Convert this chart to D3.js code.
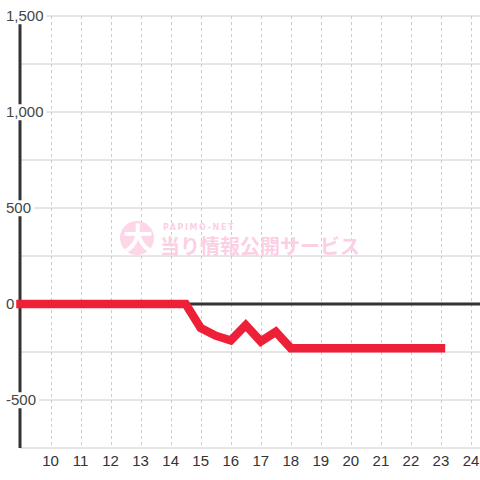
<!DOCTYPE html>
<html>
<head>
<meta charset="utf-8">
<script src="https://cdn.jsdelivr.net/npm/d3@7"></script>
<style>
  body { margin: 0; background: #fff; }
  svg text { font-family: "Liberation Sans", Arial, sans-serif; }
</style>
</head>
<body>
<svg id="chart" width="480" height="480"></svg>
<script>
// data
const games = [9, 9.5, 10, 10.5, 11, 11.5, 12, 12.5, 13, 13.5, 14, 14.5, 15, 15.5, 16, 16.5, 17, 17.5, 18, 18.5, 19, 19.5, 20, 20.5, 21, 21.5, 22, 22.5, 23];
const balance = [0, 0, 0, 0, 0, 0, 0, 0, 0, 0, 0, 0, -125, -165, -190, -110, -195, -145, -230, -230, -230, -230, -230, -230, -230, -230, -230, -230, -230];
const xTicks = [10, 11, 12, 13, 14, 15, 16, 17, 18, 19, 20, 21, 22, 23, 24];
const yGrid = [-750, -500, -250, 0, 250, 500, 750, 1000, 1250, 1500];
const yLabels = [-500, 0, 500, 1000, 1500];

const svg = d3.select('#chart');
const width = +svg.attr('width');
const height = +svg.attr('height');
const margin = { top: 16, right: 0, bottom: 32, left: 20 };

const x = d3.scaleLinear().domain([8.983, 24.3]).range([margin.left, width - margin.right]);
const y = d3.scaleLinear().domain([-750, 1500]).range([height - margin.bottom, margin.top]);

// horizontal grid
svg.append('g').selectAll('line')
    .data(yGrid)
    .enter().append('line')
    .attr('x1', margin.left).attr('x2', width)
    .attr('y1', d => y(d)).attr('y2', d => y(d))
    .attr('stroke', '#cccccc').attr('stroke-width', 1);

// vertical dashed grid
svg.append('g').selectAll('line')
    .data(xTicks)
    .enter().append('line')
    .attr('x1', d => Math.round(x(d)) + 0.5).attr('x2', d => Math.round(x(d)) + 0.5)
    .attr('y1', y(1500)).attr('y2', y(-750))
    .attr('stroke', '#cccccc').attr('stroke-width', 1)
    .attr('stroke-dasharray', '3,3');

// watermark
const wm = svg.append('g');
wm.append('circle').attr('cx', 137).attr('cy', 238).attr('r', 17).attr('fill', '#fdd6e8');
wm.append('text').attr('x', 138).attr('y', 249).attr('text-anchor', 'middle')
    .style('font-family', '"Noto Sans CJK JP"').style('font-weight', 'bold').style('font-size', '30px')
    .attr('fill', '#ffffff').text('大');
wm.append('text').attr('x', 163).attr('y', 230)
    .style('font-family', '"DejaVu Sans"').style('font-weight', 'bold').style('font-size', '8px')
    .style('letter-spacing', '1.6px')
    .attr('fill', '#fcd0e4').text('PAPIMO-NET');
wm.append('text').attr('x', 160).attr('y', 254)
    .style('font-family', '"Noto Sans CJK JP"').style('font-weight', 'bold').style('font-size', '20px')
    .attr('fill', '#fcd0e4').text('当り情報公開サービス');

// zero line
svg.append('line')
    .attr('x1', margin.left).attr('x2', width)
    .attr('y1', y(0)).attr('y2', y(0))
    .attr('stroke', '#333333').attr('stroke-width', 3);

// y axis line
svg.append('line')
    .attr('x1', margin.left).attr('x2', margin.left)
    .attr('y1', y(1500)).attr('y2', y(-750))
    .attr('stroke', '#333333').attr('stroke-width', 3);

// y labels with white boxes
const fmt = d => d3.format(',')(d).replace('−', '-');
const yl = svg.append('g').selectAll('g')
    .data(yLabels)
    .enter().append('g')
    .attr('transform', d => `translate(6,${y(d)})`);
yl.append('text')
    .attr('dy', '0.35em')
    .style('font-size', '15px')
    .attr('fill', '#444444')
    .text(d => fmt(d))
    .each(function () {
        const b = this.getBBox();
        d3.select(this.parentNode).insert('rect', 'text')
            .attr('x', b.x - 2).attr('y', b.y + 1)
            .attr('width', b.width + 5).attr('height', b.height - 1)
            .attr('fill', '#ffffff');
    });

// x labels
svg.append('g').selectAll('text')
    .data(xTicks)
    .enter().append('text')
    .attr('x', d => x(d))
    .attr('y', 466)
    .attr('text-anchor', 'middle')
    .style('font-size', '15px')
    .attr('fill', '#333333')
    .text(d => d);

// balance line
const line = d3.line()
    .x((d, i) => x(games[i]))
    .y(d => y(d));
svg.append('path')
    .datum(balance)
    .attr('d', line)
    .attr('fill', 'none')
    .attr('stroke', '#ee2038')
    .attr('stroke-width', 8.5)
    .attr('stroke-linecap', 'square')
    .attr('stroke-linejoin', 'miter');
</script>
</body>
</html>
